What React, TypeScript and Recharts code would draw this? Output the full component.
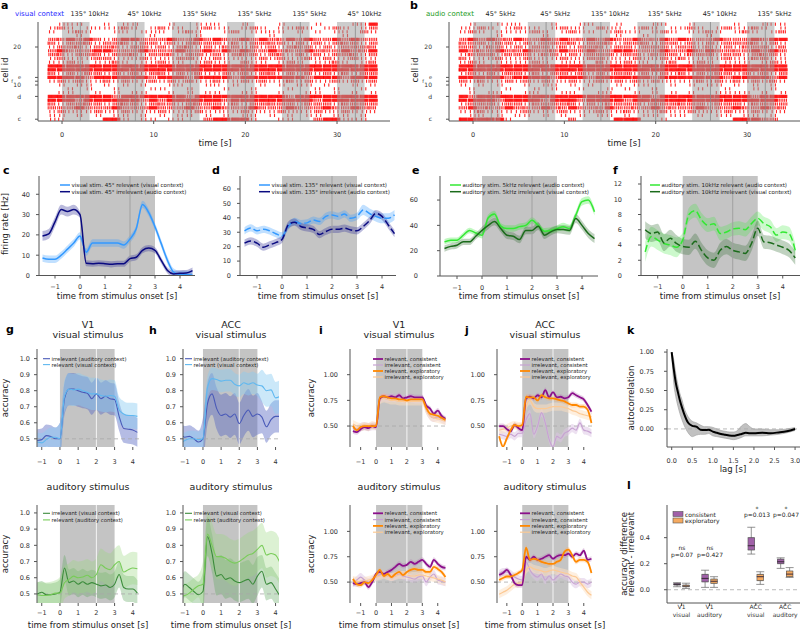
import React from 'react';
import {
  ComposedChart, Line, Area, XAxis, YAxis, ReferenceArea, ReferenceLine,
  ScatterChart, Scatter, ErrorBar,
} from 'recharts';

const FONT = '"DejaVu Sans", Verdana, sans-serif';
const AXIS = '#555';
const TXT = '#222';
const TICK = { fontSize: 6.5, fill: '#333', fontFamily: FONT };

const fmt = (d: number) => (v: number) => v.toFixed(d).replace('-', '\u2212');

// ---------------- a / b : raster ----------------
const rasterBinStart = -1.6;
const stimStarts = [0, 6, 12, 18, 24, 30];
const stimLabelsA = ['135° 10kHz', '45° 10kHz', '135° 5kHz', '135° 5kHz', '135° 5kHz', '45° 10kHz'];
const stimLabelsB = ['45° 5kHz', '45° 5kHz', '135° 10kHz', '135° 5kHz', '45° 10kHz', '135° 5kHz'];
const cellIds = [26, 25, 24, 23, 22, 21, 20, 19, 18, 17, 16, 15, 14, 13, 12, 11, 10, 9, 8, 7, 6, 5, 4, 3, 2, 1];
const cellTicks = [1, 7, 10, 11, 12, 20];
const cellTickLabels = ['c', 'd', '10', 'f', 'e', '20'];

// firing density per 1 s bin (0 none .. 3 dense), one string per cell, top to bottom
const rasterA = [
  '011100101100010011100100010001000113',
  '121011112101211012110121011210121012',
  '101210011011101210012011110101011021',
  '000100000001000010000000100000001000',
  '223232123322232232322323223232232322',
  '212221222122121222212122221212122212',
  '122212221221212212122121212221212222',
  '232223322232223223232322322232223223',
  '221222122212221221212221221212122212',
  '121112211121112211211112121121211211',
  '112101121011211012110211012101121012',
  '333333333333333333333333333333333333',
  '333333333333333333333333333333333333',
  '212122121212212121121212212121212122',
  '333323333332333233332333333323332333',
  '121211212112121211211212112121121212',
  '010110101010011001101001010110100101',
  '001010010001100100010010001001010010',
  '011001010110010101100110010011010101',
  '333333323333333233333333332333333333',
  '333233333323233333323333333332333333',
  '212222122212221222212122222122212222',
  '222322232223222322322232223222322322',
  '121112112111211121111211121112112111',
  '110101011010101101010110101011011010',
  '110000331011011002333310011002331110',
];
const rasterB = [
  '010011100010011001000110010000100111',
  '112101211012110211012101121012112101',
  '121011112101211012110121011210121012',
  '000010000100000001001000000100000000',
  '232322322323223232232232322232223233',
  '222122121222212221222122121212222121',
  '221221212212122212212221221212122212',
  '322232232223223223322232232322223232',
  '122212221221212221221222122212212221',
  '211121121112112211121121211112112211',
  '121011112101110211211012012101110121',
  '333333333333333333333333333333333333',
  '333333333333333333333333333333333333',
  '121212212122121212212121212122121212',
  '333332333323332333333233333332333323',
  '212112121211211212121211112121212121',
  '101010010110101001011001010110101010',
  '010001001010010010100100001001001010',
  '010110011001100110010101010011110101',
  '323333333333333333333233333333332333',
  '333323333233323333233333333333333332',
  '122212212222212122221222222122212222',
  '232223222322322232222322223222322322',
  '112111121112111211211121121112112111',
  '011010110101010110101101101011011010',
  '333331000000200003330010000000333220',
];

// ---------------- c - f : firing rates ----------------
const t25 = [-1.5, -1.25, -1, -0.75, -0.5, -0.25, 0, 0.25, 0.5, 0.75, 1, 1.25, 1.5, 1.75, 2, 2.25, 2.5, 2.75, 3, 3.25, 3.5, 3.75, 4, 4.25, 4.5];
const t23 = [-1.25, -1, -0.75, -0.5, -0.25, 0, 0.25, 0.5, 0.75, 1, 1.25, 1.5, 1.75, 2, 2.25, 2.5, 2.75, 3, 3.25, 3.5, 3.75, 4, 4.25];

const cRel = [8.6, 8, 8, 10, 13, 16, 19.5, 11.5, 16, 16, 16, 16, 16, 15, 18, 23, 35, 31, 24, 15.7, 7.4, 1.6, 0.5, 0.5, 0.3];
const cIrr = [19.5, 20.5, 26.4, 32.5, 31.5, 32.5, 30, 6, 5.8, 6, 5.8, 5.5, 5.8, 5.8, 8.3, 9, 12.4, 13.5, 12.4, 7.4, 2.5, 0.8, 1.1, 1.2, 2.4];
const dRel = [31, 33, 31, 32, 31, 29, 27.5, 34, 37.5, 36, 36.5, 38.5, 37.5, 41, 42, 41, 42.7, 39.7, 41, 45.5, 43, 41, 39.7, 39.7, 42];
const dIrr = [22.4, 24, 22.4, 19.6, 21.2, 22.8, 25, 35, 37, 34, 33, 32, 28.4, 30.5, 32, 32, 32.8, 31.6, 31, 34, 38, 43, 41, 35, 29];
const eRel = [27, 28.3, 28.3, 32.2, 36, 34, 32.2, 46, 49, 39.4, 37.5, 37.5, 39, 40, 44, 40, 35.4, 36, 37.5, 39, 37.5, 48, 58.7, 60, 50.7];
const eIrr = [21.7, 23.4, 24.3, 27, 27, 31.4, 36, 40, 43, 37.5, 32.2, 31.4, 28.8, 36, 36, 39.4, 32.2, 34.9, 36.7, 36.7, 36, 45.4, 40, 33.5, 29.6];
const fRel = [3.1, 5.1, 4.65, 4.2, 4, 3.7, 4.65, 8, 8.5, 7.3, 6.6, 6.8, 5.5, 5.7, 6.1, 6.2, 6, 6.8, 7.5, 6.8, 6.4, 5.3, 5.7, 5.5, 3.3];
const fIrr = [6, 5.5, 5.7, 4.3, 4.9, 4.2, 3.8, 3.7, 4.5, 3.3, 2.3, 2, 3.3, 3.8, 3.3, 3.1, 2.9, 4.2, 6.2, 4.4, 4.3, 4, 3.7, 3.3, 2.3];

// ---------------- g / h : decoding accuracy ----------------
const gvIrr = [0.49, 0.495, 0.52, 0.515, 0.5, 0.5, 0.75, 0.81, 0.81, 0.8, 0.79, 0.785, 0.75, 0.78, 0.75, 0.765, 0.75, 0.745, 0.64, 0.565, 0.56, 0.555, 0.54];
const gvRel = [0.48, 0.475, 0.495, 0.51, 0.51, 0.5, 0.765, 0.81, 0.805, 0.81, 0.8, 0.79, 0.78, 0.78, 0.77, 0.765, 0.77, 0.765, 0.68, 0.655, 0.645, 0.645, 0.64];
const hvIrr = [0.53, 0.51, 0.515, 0.5, 0.48, 0.5, 0.72, 0.78, 0.69, 0.645, 0.655, 0.635, 0.655, 0.595, 0.645, 0.68, 0.64, 0.655, 0.635, 0.575, 0.62, 0.64, 0.64];
const hvRel = [0.47, 0.49, 0.5, 0.5, 0.495, 0.5, 0.82, 0.875, 0.87, 0.86, 0.865, 0.865, 0.84, 0.83, 0.85, 0.84, 0.85, 0.835, 0.83, 0.8, 0.805, 0.755, 0.765];
const gaIrr = [0.5, 0.51, 0.495, 0.495, 0.5, 0.51, 0.66, 0.57, 0.58, 0.56, 0.575, 0.56, 0.57, 0.56, 0.55, 0.555, 0.54, 0.56, 0.62, 0.54, 0.53, 0.53, 0.505];
const gaRel = [0.495, 0.49, 0.49, 0.495, 0.505, 0.505, 0.57, 0.59, 0.61, 0.6, 0.605, 0.615, 0.6, 0.62, 0.68, 0.66, 0.65, 0.68, 0.7, 0.635, 0.65, 0.66, 0.655];
const haIrr = [0.495, 0.56, 0.54, 0.515, 0.495, 0.515, 0.855, 0.75, 0.61, 0.62, 0.59, 0.6, 0.58, 0.57, 0.58, 0.59, 0.56, 0.61, 0.64, 0.56, 0.57, 0.53, 0.485];
const haRel = [0.485, 0.49, 0.505, 0.53, 0.55, 0.56, 0.87, 0.8, 0.73, 0.73, 0.72, 0.7, 0.69, 0.7, 0.72, 0.74, 0.75, 0.775, 0.8, 0.74, 0.75, 0.74, 0.69];

// ---------------- i / j : consistent vs exploratory ----------------
const ivRelCons = [0.45, 0.44, 0.47, 0.49, 0.48, 0.5, 0.49, 0.77, 0.79, 0.78, 0.79, 0.78, 0.8, 0.77, 0.78, 0.79, 0.78, 0.78, 0.78, 0.7, 0.67, 0.62, 0.65, 0.6, 0.57];
const ivIrrCons = [0.48, 0.47, 0.49, 0.5, 0.49, 0.5, 0.5, 0.76, 0.78, 0.77, 0.78, 0.77, 0.78, 0.76, 0.77, 0.77, 0.76, 0.76, 0.76, 0.66, 0.6, 0.58, 0.59, 0.57, 0.55];
const ivRelExpl = [0.5, 0.46, 0.49, 0.5, 0.5, 0.5, 0.5, 0.78, 0.79, 0.78, 0.77, 0.77, 0.76, 0.76, 0.75, 0.76, 0.76, 0.76, 0.76, 0.68, 0.62, 0.61, 0.6, 0.58, 0.56];
const ivIrrExpl = [0.52, 0.5, 0.49, 0.5, 0.49, 0.51, 0.5, 0.75, 0.77, 0.76, 0.75, 0.75, 0.74, 0.74, 0.74, 0.74, 0.74, 0.74, 0.74, 0.66, 0.6, 0.58, 0.57, 0.56, 0.55];
const jvRelCons = [0.5, 0.5, 0.47, 0.45, 0.51, 0.48, 0.46, 0.77, 0.785, 0.77, 0.8, 0.78, 0.85, 0.78, 0.83, 0.78, 0.785, 0.77, 0.78, 0.82, 0.8, 0.78, 0.76, 0.705, 0.64];
const jvIrrCons = [0.42, 0.41, 0.4, 0.42, 0.4, 0.43, 0.43, 0.56, 0.62, 0.42, 0.5, 0.63, 0.53, 0.37, 0.3, 0.4, 0.38, 0.43, 0.45, 0.48, 0.46, 0.53, 0.46, 0.45, 0.43];
const jvRelExpl = [0.4, 0.3, 0.38, 0.46, 0.51, 0.5, 0.51, 0.785, 0.78, 0.78, 0.75, 0.8, 0.78, 0.77, 0.77, 0.76, 0.75, 0.74, 0.72, 0.705, 0.705, 0.69, 0.69, 0.66, 0.53];
const jvIrrExpl = [0.46, 0.47, 0.48, 0.5, 0.51, 0.5, 0.5, 0.69, 0.75, 0.69, 0.67, 0.67, 0.67, 0.68, 0.69, 0.69, 0.69, 0.68, 0.67, 0.65, 0.64, 0.62, 0.61, 0.6, 0.59];
const iaRelCons = [0.49, 0.48, 0.49, 0.5, 0.45, 0.5, 0.58, 0.6, 0.58, 0.6, 0.62, 0.65, 0.68, 0.66, 0.67, 0.7, 0.68, 0.7, 0.72, 0.68, 0.65, 0.72, 0.68, 0.65, 0.64];
const iaIrrCons = [0.49, 0.52, 0.55, 0.52, 0.5, 0.52, 0.55, 0.57, 0.58, 0.56, 0.55, 0.56, 0.58, 0.56, 0.55, 0.54, 0.53, 0.55, 0.56, 0.5, 0.55, 0.58, 0.52, 0.51, 0.5];
const iaRelExpl = [0.53, 0.48, 0.47, 0.5, 0.49, 0.52, 0.57, 0.62, 0.56, 0.58, 0.55, 0.58, 0.6, 0.57, 0.6, 0.62, 0.63, 0.62, 0.62, 0.6, 0.6, 0.65, 0.63, 0.6, 0.55];
const iaIrrExpl = [0.52, 0.51, 0.5, 0.51, 0.52, 0.53, 0.55, 0.56, 0.57, 0.56, 0.55, 0.56, 0.57, 0.57, 0.57, 0.56, 0.56, 0.57, 0.57, 0.56, 0.55, 0.54, 0.53, 0.52, 0.5];
const jaRelCons = [0.57, 0.59, 0.62, 0.57, 0.49, 0.47, 0.47, 0.75, 0.72, 0.75, 0.72, 0.73, 0.75, 0.765, 0.73, 0.755, 0.765, 0.765, 0.78, 0.75, 0.78, 0.765, 0.81, 0.72, 0.73];
const jaIrrCons = [0.58, 0.6, 0.6, 0.58, 0.55, 0.53, 0.52, 0.7, 0.62, 0.57, 0.55, 0.58, 0.52, 0.56, 0.52, 0.55, 0.58, 0.56, 0.55, 0.5, 0.48, 0.5, 0.5, 0.48, 0.5];
const jaRelExpl = [0.52, 0.54, 0.555, 0.555, 0.57, 0.59, 0.62, 0.84, 0.72, 0.73, 0.72, 0.7, 0.69, 0.68, 0.68, 0.7, 0.72, 0.8, 0.82, 0.765, 0.7, 0.72, 0.72, 0.7, 0.59];
const jaIrrExpl = [0.38, 0.4, 0.42, 0.45, 0.48, 0.49, 0.5, 0.62, 0.65, 0.63, 0.62, 0.61, 0.6, 0.61, 0.62, 0.61, 0.6, 0.59, 0.58, 0.56, 0.55, 0.5, 0.45, 0.4, 0.37];

// ---------------- k : autocorrelation ----------------
const kLag = [0, 0.05, 0.1, 0.15, 0.2, 0.25, 0.3, 0.4, 0.5, 0.6, 0.7, 0.8, 0.9, 1.0, 1.1, 1.2, 1.3, 1.4, 1.5, 1.6, 1.7, 1.8, 1.9, 2.0, 2.2, 2.4, 2.6, 2.8, 3.0];
const kMean = [1.0, 0.78, 0.6, 0.48, 0.37, 0.28, 0.2, 0.08, 0.04, 0.03, -0.01, -0.015, -0.01, -0.035, -0.05, -0.065, -0.075, -0.085, -0.09, -0.08, -0.065, -0.05, -0.055, -0.055, -0.05, -0.055, -0.045, -0.03, 0.0];
const kLow = [0.98, 0.6, 0.42, 0.3, 0.2, 0.12, 0.05, -0.05, -0.1, -0.08, -0.07, -0.07, -0.06, -0.09, -0.1, -0.11, -0.12, -0.13, -0.14, -0.13, -0.11, -0.09, -0.09, -0.09, -0.09, -0.08, -0.07, -0.05, -0.02];
const kHigh = [1.0, 0.9, 0.72, 0.58, 0.46, 0.38, 0.28, 0.16, 0.1, 0.08, 0.05, 0.03, 0.03, 0.02, 0.0, -0.02, -0.03, -0.04, -0.04, -0.02, 0.04, 0.07, 0.03, 0.0, 0.0, -0.01, -0.01, 0.0, 0.02];

// ---------------- l : accuracy difference boxes ----------------
const lPos = [1, 2, 3.65, 4.7];
const lNames = [['V1', 'visual'], ['V1', 'auditory'], ['ACC', 'visual'], ['ACC', 'auditory']];
const consMin = [0.023, 0.018, 0.274, 0.164];
const consQ1 = [0.036, 0.06, 0.305, 0.2];
const consMed = [0.04, 0.087, 0.338, 0.215];
const consQ3 = [0.049, 0.118, 0.4, 0.235];
const consMax = [0.054, 0.15, 0.48, 0.245];
const explMin = [0.01, 0.018, 0.041, 0.095];
const explQ1 = [0.023, 0.049, 0.07, 0.1];
const explMed = [0.028, 0.065, 0.1, 0.12];
const explQ3 = [0.036, 0.082, 0.118, 0.144];
const explMax = [0.05, 0.1, 0.138, 0.17];

// ---------------- helpers ----------------
type Ser = {
  key: string; name: string; v: number[]; err: number[];
  color: string; band: string; bandOp: number; w: number; dash?: string; op?: number;
};

// band half-width read per phase: before / during / after the stimulus
const phase = (t: number[], pre: number, stim: number, post: number) =>
  t.map((x) => (x < 0 ? pre : x <= 3 ? stim : post));

const mkChoice = (t: number[], rc: number[], ic: number[], re: number[], ie: number[]): Ser[] => [
  { key: 'ic', name: 'irrelevant, consistent', v: ic, err: phase(t, 0.04, 0.04, 0.04), color: '#c7a3d2', band: '#dcc3e4', bandOp: 0.5, w: 1.2 },
  { key: 'ie', name: 'irrelevant, exploratory', v: ie, err: phase(t, 0.04, 0.04, 0.04), color: '#fcc994', band: '#fde0c0', bandOp: 0.5, w: 1.2 },
  { key: 'rc', name: 'relevant, consistent', v: rc, err: phase(t, 0.025, 0.025, 0.025), color: '#8b108b', band: '#b070b0', bandOp: 0.3, w: 1.8 },
  { key: 're', name: 'relevant, exploratory', v: re, err: phase(t, 0.025, 0.025, 0.025), color: '#ff8800', band: '#ffb060', bandOp: 0.3, w: 1.8 },
];
const legendOrder = ['rc', 'ic', 're', 'ie'];

type PanelProps = {
  L: number; T: number; R: number; B: number;
  t: number[]; series: Ser[];
  xDomain: [number, number]; yDomain: [number, number];
  xTicks: number[]; yTicks: number[]; yDec: number;
  midLine: string; refY?: number; xAxisLine: boolean;
  xTm: number; yTm: number; yw: number;
};

function TracePanel(p: PanelProps) {
  const MT = 2;
  const MR = 2;
  const XH = 20;
  const rows = p.t.map((x, i) => {
    const r: Record<string, unknown> = { t: x };
    p.series.forEach((s) => {
      r[s.key] = s.v[i];
      r[s.key + 'B'] = [s.v[i] - s.err[i], s.v[i] + s.err[i]];
    });
    return r;
  });
  return (
    <div style={{ position: 'absolute', left: p.L - p.yw, top: p.T - MT }}>
      <ComposedChart
        width={p.R - p.L + p.yw + MR}
        height={p.B - p.T + MT + XH}
        data={rows}
        margin={{ top: MT, right: MR, bottom: 0, left: 0 }}
      >
        <XAxis
          dataKey="t" type="number" domain={p.xDomain} ticks={p.xTicks} allowDataOverflow height={XH}
          tickFormatter={fmt(0)} tick={TICK} tickSize={3} tickMargin={p.xTm} interval={0}
          axisLine={p.xAxisLine ? { stroke: AXIS } : false} tickLine={{ stroke: AXIS }}
        />
        <YAxis
          type="number" domain={p.yDomain} ticks={p.yTicks} allowDataOverflow width={p.yw}
          tickFormatter={fmt(p.yDec)} tick={TICK} tickSize={3} tickMargin={p.yTm} interval={0}
          axisLine={{ stroke: AXIS }} tickLine={{ stroke: AXIS }}
        />
        <ReferenceArea x1={0} x2={3} fill="#c4c4c4" fillOpacity={1} stroke="none" />
        <ReferenceLine x={2} stroke={p.midLine} strokeWidth={1} />
        {p.refY !== undefined && (
          <ReferenceLine y={p.refY} stroke="#a8a8a8" strokeDasharray="4 3" strokeWidth={0.8} />
        )}
        {p.series.map((s) => (
          <Area
            key={s.key + 'B'} dataKey={s.key + 'B'} type="monotone" stroke="none"
            fill={s.band} fillOpacity={s.bandOp} isAnimationActive={false} activeDot={false} legendType="none"
          />
        ))}
        {p.series.map((s) => (
          <Line
            key={s.key} dataKey={s.key} type="monotone" stroke={s.color} strokeWidth={s.w}
            strokeDasharray={s.dash} strokeOpacity={s.op ?? 1}
            dot={false} activeDot={false} isAnimationActive={false}
          />
        ))}
      </ComposedChart>
    </div>
  );
}

const BIN_PX = 9.15;
const spikeSets: Record<number, number[]> = {
  1: [1.6, 5.9],
  2: [0.3, 2.1, 3.9, 5.7, 7.5],
  3: [0, 1.1, 2.2, 3.3, 4.4, 5.5, 6.6, 7.7],
};

function RasterShape(props: any) {
  const { cx, cy, payload } = props;
  if (cx == null || cy == null || !payload) return <g />;
  const left = cx - BIN_PX / 2;
  const shift = ((payload.k * 5 + payload.cell * 3) % 4) * 0.35;
  const offs = spikeSets[payload.lv] || [];
  const w = payload.lv === 3 ? 1.6 : 1.1;
  return (
    <g>
      {offs.map((o, i) => (
        <rect
          key={i} x={left + ((o + shift) % (BIN_PX - 0.8))} y={cy - 1.6}
          width={w} height={3.2} fill="#ff0000" fillOpacity={0.85}
        />
      ))}
    </g>
  );
}

// cell-id tick: the two crowded letters next to "10" are set smaller and staggered
function CellTick(p: any) {
  const v = p.payload?.value;
  const label = cellTickLabels[cellTicks.indexOf(v)] ?? '';
  const small = v === 11 || v === 12;
  const dx = v === 11 ? -8 : 0;
  return (
    <text x={p.x + dx} y={p.y} dy="0.355em" textAnchor="end" fontSize={small ? 5 : 6} fill="#333" fontFamily={FONT}>
      {label}
    </text>
  );
}

function Raster({ L, T, R, B, pattern, labels, xDomain }: {
  L: number; T: number; R: number; B: number; pattern: string[]; labels: string[]; xDomain: [number, number];
}) {
  const MT = 12;
  const MR = 2;
  const XH = 22;
  const YW = 32;
  const pts: { t: number; cell: number; lv: number; k: number }[] = [];
  pattern.forEach((row, r) => {
    row.split('').forEach((ch, k) => {
      const lv = Number(ch);
      if (lv > 0) pts.push({ t: rasterBinStart + k + 0.5, cell: cellIds[r], lv, k });
    });
  });
  return (
    <div style={{ position: 'absolute', left: L - YW, top: T - MT }}>
      <ScatterChart
        width={R - L + YW + MR} height={B - T + MT + XH}
        margin={{ top: MT, right: MR, bottom: 0, left: 0 }}
      >
        <XAxis
          dataKey="t" type="number" domain={xDomain} ticks={[0, 10, 20, 30]} allowDataOverflow height={XH}
          tick={TICK} tickSize={3} tickMargin={8} interval={0} axisLine={{ stroke: AXIS }} tickLine={{ stroke: AXIS }}
        />
        <YAxis
          dataKey="cell" type="number" domain={[0.53, 26.58]} ticks={cellTicks} allowDataOverflow width={YW} interval={0}
          tick={(p: any) => <CellTick {...p} />} tickSize={3} tickMargin={14} axisLine={{ stroke: AXIS }} tickLine={{ stroke: AXIS }}
        />
        <Scatter data={pts} shape={RasterShape} isAnimationActive={false} />
        {stimStarts.map((s, i) => (
          <ReferenceArea key={'a' + i} x1={s} x2={s + 3} fill="#9a9a9a" fillOpacity={0.5} stroke="none" zIndex={700} />
        ))}
        {stimStarts.map((s, i) => (
          <ReferenceLine key={'m' + i} x={s + 2} stroke="#8a8a8a" strokeWidth={0.8} zIndex={710} />
        ))}
        {stimStarts.map((s, i) => (
          <ReferenceLine
            key={'l' + i} x={s + 3} stroke="none"
            label={{ value: labels[i], position: 'top', offset: 6, fontSize: 6.5, fill: TXT, fontFamily: FONT }}
          />
        ))}
      </ScatterChart>
    </div>
  );
}

function AutoPanel() {
  const L = 667, T = 349, R = 800, B = 447, MT = 2, MR = 2, XH = 22, YW = 30;
  const rows = kLag.map((x, i) => ({ t: x, mean: kMean[i], band: [kLow[i], kHigh[i]] }));
  return (
    <div style={{ position: 'absolute', left: L - YW, top: T - MT }}>
      <ComposedChart width={R - L + YW + MR} height={B - T + MT + XH} data={rows} margin={{ top: MT, right: MR, bottom: 0, left: 0 }}>
        <XAxis
          dataKey="t" type="number" domain={[-0.114, 3.12]} ticks={[0, 0.5, 1, 1.5, 2, 2.5, 3]} allowDataOverflow height={XH}
          tickFormatter={fmt(1)} tick={TICK} tickSize={3} tickMargin={8} interval={0} axisLine={{ stroke: AXIS }} tickLine={{ stroke: AXIS }}
        />
        <YAxis
          type="number" domain={[-0.235, 1.04]} ticks={[0, 0.25, 0.5, 0.75, 1]} allowDataOverflow width={YW}
          tickFormatter={fmt(2)} tick={TICK} tickSize={3} tickMargin={10} interval={0} axisLine={{ stroke: AXIS }} tickLine={{ stroke: AXIS }}
        />
        <ReferenceLine y={0} stroke="#a8a8a8" strokeDasharray="4 3" strokeWidth={0.8} />
        <Area dataKey="band" type="monotone" stroke="#9a9a9a" strokeWidth={0.6} fill="#a0a0a0" fillOpacity={0.65} isAnimationActive={false} activeDot={false} />
        <Line dataKey="mean" type="monotone" stroke="#000" strokeWidth={2} dot={false} activeDot={false} isAnimationActive={false} />
      </ComposedChart>
    </div>
  );
}

const CONS = '#a060a8';
const EXPL = '#f5aa60';

function LTick(p: any) {
  const i = lPos.indexOf(p.payload?.value);
  const [a, b] = lNames[i] ?? ['', ''];
  return (
    <text x={p.x} y={p.y} textAnchor="middle" fontSize={6} fill="#333" fontFamily={FONT}>
      <tspan x={p.x} dy={1}>{a}</tspan>
      <tspan x={p.x} dy={8}>{b}</tspan>
    </text>
  );
}

const MedianShape = (p: any) =>
  p.cx == null ? <g /> : <line x1={p.cx - 3.5} x2={p.cx + 3.5} y1={p.cy} y2={p.cy} stroke="#3a2a3a" strokeWidth={1} />;
const EdgeShape = (p: any) =>
  p.cx == null ? <g /> : <line x1={p.cx - 3.5} x2={p.cx + 3.5} y1={p.cy} y2={p.cy} stroke="#555" strokeWidth={0.7} />;

function BoxPanel() {
  const L = 667, T = 505, R = 800, B = 603, MT = 2, MR = 2, XH = 22, YW = 32;
  const boxRows = (off: number, mn: number[], q1: number[], md: number[], q3: number[], mx: number[]) =>
    lPos.map((p, i) => ({ x: p + off, y: md[i], whisk: [md[i] - mn[i], mx[i] - md[i]], box: [md[i] - q1[i], q3[i] - md[i]] }));
  const edgeRows = (off: number, q1: number[], q3: number[]) =>
    lPos.flatMap((p, i) => [{ x: p + off, y: q1[i] }, { x: p + off, y: q3[i] }]);
  const cons = boxRows(-0.16, consMin, consQ1, consMed, consQ3, consMax);
  const expl = boxRows(0.16, explMin, explQ1, explMed, explQ3, explMax);
  return (
    <div style={{ position: 'absolute', left: L - YW, top: T - MT }}>
      <ScatterChart width={R - L + YW + MR} height={B - T + MT + XH} margin={{ top: MT, right: MR, bottom: 0, left: 0 }}>
        <XAxis
          dataKey="x" type="number" domain={[0.48, 5.23]} ticks={lPos} allowDataOverflow height={XH} interval={0}
          tick={(p: any) => <LTick {...p} />} tickSize={3} tickMargin={2} axisLine={{ stroke: AXIS }} tickLine={{ stroke: AXIS }}
        />
        <YAxis
          dataKey="y" type="number" domain={[-0.102, 0.651]} ticks={[0, 0.2, 0.4]} allowDataOverflow width={YW} interval={0}
          tickFormatter={fmt(1)} tick={TICK} tickSize={3} tickMargin={14} axisLine={{ stroke: AXIS }} tickLine={{ stroke: AXIS }}
        />
        <ReferenceLine y={0} stroke="#a8a8a8" strokeDasharray="4 3" strokeWidth={0.8} />
        <Scatter data={cons} shape={MedianShape} isAnimationActive={false}>
          <ErrorBar dataKey="whisk" direction="y" width={4} stroke="#777" strokeWidth={0.8} />
          <ErrorBar dataKey="box" direction="y" width={0} stroke="#555" strokeWidth={7.2} />
          <ErrorBar dataKey="box" direction="y" width={0} stroke={CONS} strokeWidth={6} />
        </Scatter>
        <Scatter data={expl} shape={MedianShape} isAnimationActive={false}>
          <ErrorBar dataKey="whisk" direction="y" width={4} stroke="#777" strokeWidth={0.8} />
          <ErrorBar dataKey="box" direction="y" width={0} stroke="#555" strokeWidth={7.2} />
          <ErrorBar dataKey="box" direction="y" width={0} stroke={EXPL} strokeWidth={6} />
        </Scatter>
        <Scatter data={edgeRows(-0.16, consQ1, consQ3)} shape={EdgeShape} isAnimationActive={false} />
        <Scatter data={edgeRows(0.16, explQ1, explQ3)} shape={EdgeShape} isAnimationActive={false} />
      </ScatterChart>
    </div>
  );
}

function Legend({ x, y, dy, len, items, fs }: {
  x: number; y: number; dy: number; len: number; fs: number;
  items: { name: string; color: string; w: number; dash?: string; op?: number }[];
}) {
  return (
    <g>
      {items.map((it, i) => (
        <g key={i}>
          <line x1={x} x2={x + len} y1={y + i * dy} y2={y + i * dy} stroke={it.color} strokeWidth={it.w} strokeOpacity={it.op ?? 1} />
          <text x={x + len + 1.5} y={y + i * dy + fs * 0.36} fontSize={fs} fill={TXT}>{it.name}</text>
        </g>
      ))}
    </g>
  );
}

const VText = ({ x, y, children, fs = 8.5 }: { x: number; y: number; children: React.ReactNode; fs?: number }) => (
  <text transform={`translate(${x},${y}) rotate(-90)`} textAnchor="middle" fontSize={fs} fill={TXT}>{children}</text>
);
const CText = ({ x, y, children, fs = 8.5, color = TXT }: { x: number; y: number; children: React.ReactNode; fs?: number; color?: string }) => (
  <text x={x} y={y} textAnchor="middle" fontSize={fs} fill={color}>{children}</text>
);

export default function App() {
  const xT = [-1, 0, 1, 2, 3, 4];
  const cSer: Ser[] = [
    { key: 'rel', name: 'visual stim.  45° relevant (visual context)', v: cRel, err: phase(t25, 1.8, 1.8, 1.8), color: '#3399ff', band: '#3399ff', bandOp: 0.3, w: 1.5 },
    { key: 'irr', name: 'visual stim.  45° irrelevant (audio context)', v: cIrr, err: phase(t25, 2.4, 1.5, 1.5), color: '#0a0a80', band: '#3a3a9a', bandOp: 0.35, w: 1.5 },
  ];
  const dSer: Ser[] = [
    { key: 'rel', name: 'visual stim. 135° relevant (visual context)', v: dRel, err: phase(t25, 2.5, 2.5, 3.5), color: '#3399ff', band: '#3399ff', bandOp: 0.3, w: 1.5, dash: '7 3' },
    { key: 'irr', name: 'visual stim. 135° irrelevant (audio context)', v: dIrr, err: phase(t25, 2.5, 2.5, 2.5), color: '#0a0a80', band: '#3a3a9a', bandOp: 0.35, w: 1.5, dash: '7 3' },
  ];
  const eSer: Ser[] = [
    { key: 'rel', name: 'auditory stim.  5kHz relevant (audio context)', v: eRel, err: phase(t25, 2.2, 2.5, 3), color: '#33e833', band: '#33e833', bandOp: 0.3, w: 1.5 },
    { key: 'irr', name: 'auditory stim.  5kHz irrelevant (visual context)', v: eIrr, err: phase(t25, 2.5, 3, 3.5), color: '#1b6b1b', band: '#2e6b2e', bandOp: 0.3, w: 1.5 },
  ];
  const fSer: Ser[] = [
    { key: 'rel', name: 'auditory stim. 10kHz relevant (audio context)', v: fRel, err: phase(t25, 1.3, 0.9, 0.9), color: '#33e833', band: '#33e833', bandOp: 0.25, w: 1.5, dash: '7 3' },
    { key: 'irr', name: 'auditory stim. 10kHz irrelevant (visual context)', v: fIrr, err: phase(t25, 1.1, 1.0, 0.9), color: '#1b6b1b', band: '#2e6b2e', bandOp: 0.3, w: 1.5, dash: '7 3' },
  ];
  const gvSer: Ser[] = [
    { key: 'irr', name: 'irrelevant (auditory context)', v: gvIrr, err: phase(t23, 0.07, 0.1, 0.09), color: '#4a5ab8', band: '#5b6bc4', bandOp: 0.45, w: 1.1 },
    { key: 'rel', name: 'relevant (visual context)', v: gvRel, err: phase(t23, 0.06, 0.1, 0.08), color: '#5fb8f0', band: '#8ccdf2', bandOp: 0.45, w: 1.1 },
  ];
  const hvSer: Ser[] = [
    { key: 'irr', name: 'irrelevant (auditory context)', v: hvIrr, err: phase(t23, 0.07, 0.13, 0.1), color: '#4a5ab8', band: '#5b6bc4', bandOp: 0.45, w: 1.1 },
    { key: 'rel', name: 'relevant (visual context)', v: hvRel, err: phase(t23, 0.05, 0.07, 0.1), color: '#5fb8f0', band: '#8ccdf2', bandOp: 0.45, w: 1.1 },
  ];
  const gaSer: Ser[] = [
    { key: 'irr', name: 'irrelevant (visual context)', v: gaIrr, err: phase(t23, 0.07, 0.08, 0.08), color: '#3b8b3b', band: '#5ea55e', bandOp: 0.35, w: 1.1 },
    { key: 'rel', name: 'relevant (auditory context)', v: gaRel, err: phase(t23, 0.08, 0.1, 0.1), color: '#78cc58', band: '#9ad680', bandOp: 0.35, w: 1.1 },
  ];
  const haSer: Ser[] = [
    { key: 'irr', name: 'irrelevant (visual context)', v: haIrr, err: phase(t23, 0.08, 0.12, 0.1), color: '#3b8b3b', band: '#5ea55e', bandOp: 0.35, w: 1.1 },
    { key: 'rel', name: 'relevant (auditory context)', v: haRel, err: phase(t23, 0.07, 0.14, 0.14), color: '#78cc58', band: '#9ad680', bandOp: 0.35, w: 1.1 },
  ];
  const ivSer = mkChoice(t25, ivRelCons, ivIrrCons, ivRelExpl, ivIrrExpl);
  const jvSer = mkChoice(t25, jvRelCons, jvIrrCons, jvRelExpl, jvIrrExpl);
  const iaSer = mkChoice(t25, iaRelCons, iaIrrCons, iaRelExpl, iaIrrExpl);
  const jaSer = mkChoice(t25, jaRelCons, jaIrrCons, jaRelExpl, jaIrrExpl);
  const ord = (s: Ser[]) => legendOrder.map((k) => s.find((x) => x.key === k)!);

  const fr = { xTicks: xT, yDec: 0, midLine: '#a0a0a0', xAxisLine: true, xTm: 6, t: t25 };
  const acc = { xTicks: xT, yDec: 1, midLine: '#f4f4f4', xAxisLine: false, xTm: 9, t: t23, refY: 0.5, yTicks: [0.5, 0.6, 0.7, 0.8, 0.9, 1.0], yTm: 4, yw: 28 };
  const ch = { xTicks: xT, yDec: 2, midLine: '#f4f4f4', xAxisLine: false, xTm: 9, t: t25, refY: 0.5, yTicks: [0.5, 0.75, 1.0], yTm: 9, yw: 36 };

  return (
    <div style={{ position: 'absolute', left: 0, top: 0, width: 800, height: 629, overflow: 'hidden', background: '#fff', fontFamily: FONT }}>
      <Raster L={38} T={22} R={390} B={121} pattern={rasterA} labels={stimLabelsA} xDomain={[-2.62, 35.78]} />
      <Raster L={449} T={22} R={800} B={121} pattern={rasterB} labels={stimLabelsB} xDomain={[-2.63, 35.8]} />

      <TracePanel {...fr} L={39} T={176} R={195} B={275.5} series={cSer} xDomain={[-1.64, 4.6]} yDomain={[0, 49]} yTicks={[0, 10, 20, 30, 40]} yTm={6} yw={30} />
      <TracePanel {...fr} L={240} T={176} R={396} B={275.5} series={dSer} xDomain={[-1.68, 4.56]} yDomain={[0, 69]} yTicks={[0, 10, 20, 30, 40, 50, 60]} yTm={6} yw={30} />
      <TracePanel {...fr} L={440} T={176} R={598} B={276} series={eSer} xDomain={[-1.68, 4.64]} yDomain={[0, 79]} yTicks={[0, 20, 40, 60]} yTm={19} yw={40} />
      <TracePanel {...fr} L={641} T={176} R={800} B={275.5} series={fSer} xDomain={[-1.668, 4.69]} yDomain={[0, 13.05]} yTicks={[0, 2, 4, 6, 8, 10, 12]} yTm={16} yw={36} />

      <TracePanel {...acc} L={37} T={349} R={139} B={447} series={gvSer} xDomain={[-1.26, 4.34]} yDomain={[0.449, 1.06]} />
      <TracePanel {...acc} L={183} T={349} R={279} B={447} series={hvSer} xDomain={[-1.1, 4.19]} yDomain={[0.449, 1.06]} />
      <TracePanel {...acc} L={37} T={505} R={139} B={603} series={gaSer} xDomain={[-1.26, 4.34]} yDomain={[0.444, 1.049]} xTm={4} />
      <TracePanel {...acc} L={183} T={505} R={279} B={603} series={haSer} xDomain={[-1.1, 4.19]} yDomain={[0.444, 1.049]} xTm={4} />

      <TracePanel {...ch} L={350} T={349} R={447} B={447} series={ivSer} xDomain={[-1.69, 4.6]} yDomain={[0.296, 1.25]} />
      <TracePanel {...ch} L={497} T={349} R={593} B={447} series={jvSer} xDomain={[-1.64, 4.6]} yDomain={[0.296, 1.25]} />
      <TracePanel {...ch} L={350} T={505} R={447} B={603} series={iaSer} xDomain={[-1.69, 4.6]} yDomain={[0.294, 1.26]} xTm={4} />
      <TracePanel {...ch} L={497} T={505} R={593} B={603} series={jaSer} xDomain={[-1.64, 4.6]} yDomain={[0.294, 1.26]} xTm={4} />

      <AutoPanel />
      <BoxPanel />

      <svg width={800} height={629} style={{ position: 'absolute', left: 0, top: 0, pointerEvents: 'none' }} fontFamily={FONT}>
        {/* panel letters */}
        <g fontSize={11} fontWeight="bold" fill="#000">
          <text x={1} y={9}>a</text>
          <text x={410} y={9}>b</text>
          <text x={3} y={174}>c</text>
          <text x={212} y={174}>d</text>
          <text x={412} y={174}>e</text>
          <text x={613} y={174}>f</text>
          <text x={6} y={333}>g</text>
          <text x={149} y={334}>h</text>
          <text x={319} y={334}>i</text>
          <text x={465} y={334}>j</text>
          <text x={627} y={334}>k</text>
          <text x={627} y={489}>l</text>
        </g>

        {/* a / b */}
        <text x={15} y={16} fontSize={7} fill="#1f1fff">visual context</text>
        <text x={426} y={16} fontSize={7} fill="#1a9a1a">audio context</text>
        <VText x={8} y={70}>cell id</VText>
        <VText x={418} y={70}>cell id</VText>
        <CText x={215} y={146}>time [s]</CText>
        <CText x={624} y={146}>time [s]</CText>

        {/* c - f */}
        <VText x={8} y={224}>firing rate [Hz]</VText>
        <CText x={117} y={299}>time from stimulus onset [s]</CText>
        <CText x={318} y={299}>time from stimulus onset [s]</CText>
        <CText x={519} y={299}>time from stimulus onset [s]</CText>
        <CText x={720} y={299}>time from stimulus onset [s]</CText>
        <Legend x={60} y={185} dy={6.7} len={10} fs={5.5} items={cSer} />
        <Legend x={259} y={185} dy={6.7} len={11} fs={5.5} items={dSer} />
        <Legend x={450} y={185} dy={6.7} len={11} fs={5.5} items={eSer} />
        <Legend x={650} y={185} dy={6.7} len={10} fs={5.5} items={fSer} />

        {/* g - j titles */}
        <CText x={88} y={328} fs={9.5}>V1</CText>
        <CText x={88} y={338} fs={9.5}>visual stimulus</CText>
        <CText x={231} y={328} fs={9.5}>ACC</CText>
        <CText x={231} y={338} fs={9.5}>visual stimulus</CText>
        <CText x={399} y={328} fs={9.5}>V1</CText>
        <CText x={399} y={338} fs={9.5}>visual stimulus</CText>
        <CText x={545} y={328} fs={9.5}>ACC</CText>
        <CText x={545} y={338} fs={9.5}>visual stimulus</CText>
        <CText x={88} y={490} fs={9.5}>auditory stimulus</CText>
        <CText x={231} y={490} fs={9.5}>auditory stimulus</CText>
        <CText x={399} y={490} fs={9.5}>auditory stimulus</CText>
        <CText x={545} y={490} fs={9.5}>auditory stimulus</CText>
        <VText x={8} y={398}>accuracy</VText>
        <VText x={8} y={554}>accuracy</VText>
        <VText x={314} y={398}>accuracy</VText>
        <VText x={314} y={554}>accuracy</VText>
        <CText x={88} y={628}>time from stimulus onset [s]</CText>
        <CText x={231} y={628}>time from stimulus onset [s]</CText>
        <CText x={399} y={628}>time from stimulus onset [s]</CText>
        <CText x={545} y={628}>time from stimulus onset [s]</CText>
        <Legend x={43} y={358.7} dy={5.9} len={7} fs={5.3} items={gvSer} />
        <Legend x={185} y={358.7} dy={5.9} len={7} fs={5.3} items={hvSer} />
        <Legend x={43} y={513.3} dy={6.6} len={7} fs={5.3} items={gaSer} />
        <Legend x={185} y={513.3} dy={6.6} len={7} fs={5.3} items={haSer} />
        <Legend x={373} y={359} dy={6} len={10} fs={5.3} items={ord(ivSer)} />
        <Legend x={520} y={359} dy={6} len={10} fs={5.3} items={ord(jvSer)} />
        <Legend x={373} y={513.3} dy={6.3} len={10} fs={5.3} items={ord(iaSer)} />
        <Legend x={520} y={513.3} dy={6.3} len={10} fs={5.3} items={ord(jaSer)} />

        {/* k */}
        <VText x={634} y={398}>autocorrelation</VText>
        <CText x={733} y={472}>lag [s]</CText>

        {/* l */}
        <VText x={627} y={554}>accuracy difference</VText>
        <VText x={634} y={554}>relevant - irrelevant</VText>
        <rect x={673} y={511.5} width={10} height={5} fill={CONS} stroke="#555" strokeWidth={0.6} />
        <text x={685} y={516.5} fontSize={6} fill={TXT}>consistent</text>
        <rect x={673} y={518} width={10} height={5} fill={EXPL} stroke="#555" strokeWidth={0.6} />
        <text x={685} y={523} fontSize={6} fill={TXT}>exploratory</text>
        <CText x={682} y={550} fs={6}>ns</CText>
        <CText x={682} y={556.5} fs={6}>p=0.07</CText>
        <CText x={710} y={550} fs={6}>ns</CText>
        <CText x={710} y={556.5} fs={6}>p=0.427</CText>
        <CText x={757} y={511} fs={6}>*</CText>
        <CText x={757} y={517} fs={6}>p=0.013</CText>
        <CText x={786} y={511} fs={6}>*</CText>
        <CText x={786} y={517} fs={6}>p=0.047</CText>
      </svg>
    </div>
  );
}
